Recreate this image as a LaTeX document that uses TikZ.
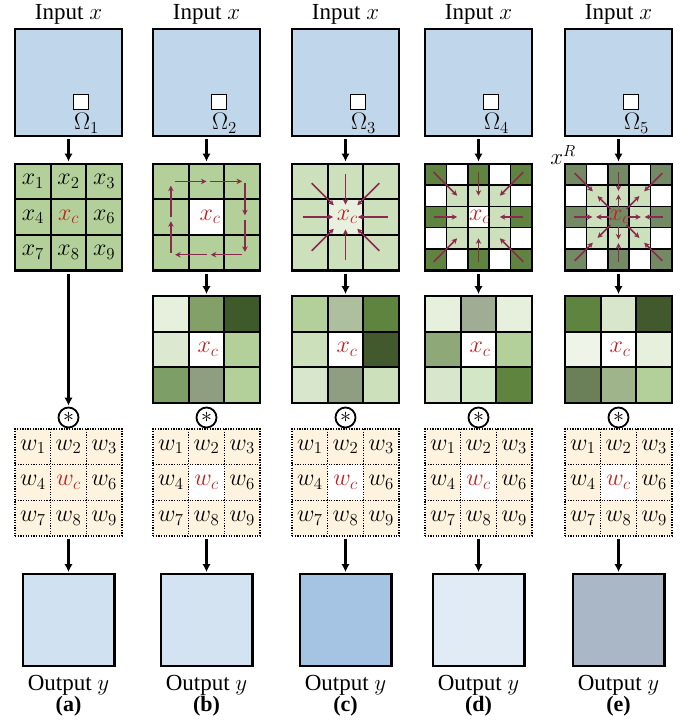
\RequirePackage{fix-cm}
\documentclass[tikz,border=0pt]{standalone}
\usepackage{fontspec}
\setmainfont{Liberation Serif}
\usetikzlibrary{arrows.meta}
\newcommand\defhex[1]{\definecolor{c#1}{HTML}{#1}}
\defhex{E6F0DC}\defhex{82A068}\defhex{3F5A2A}\defhex{DCE8D0}\defhex{B3D09A}
\defhex{7E9E68}\defhex{8F9E80}\defhex{AEBFA0}\defhex{5E8440}\defhex{CCE0BC}
\defhex{41592C}\defhex{D8E6CC}\defhex{A0AC94}\defhex{8FA878}\defhex{D3E6C5}
\defhex{EEF4E8}\defhex{6B7F58}\defhex{A0B48C}
\definecolor{inblue}{HTML}{C0D6EA}
\definecolor{gA}{HTML}{B3D09A}
\definecolor{gL}{HTML}{CCE0BC}
\definecolor{gC}{HTML}{E8F0DF}
\definecolor{gD}{HTML}{5E8440}
\definecolor{gE}{HTML}{748A64}
\definecolor{arrcol}{HTML}{8B2A4E}
\definecolor{redt}{HTML}{C0201E}
\definecolor{cream}{HTML}{FDF3DE}
\definecolor{outa}{HTML}{D0E1F1}
\definecolor{outb}{HTML}{D3E3F2}
\definecolor{outc}{HTML}{A5C3E2}
\definecolor{outd}{HTML}{E1EBF5}
\definecolor{oute}{HTML}{A9B7C6}
\tikzset{
  bigarrow/.style={line width=2.4pt, -{Latex[length=8pt,width=8.5pt]}, shorten <=2pt, shorten >=1pt},
  marr/.style={draw=arrcol, line width=1.5pt, -{Stealth[length=5.5pt,width=5.5pt]}},
  inbox/.style={draw, line width=2.4pt, fill=inblue, minimum size=106.6pt, inner sep=0pt},
  outbox/.style={draw, line width=2.4pt, minimum size=91.6pt, inner sep=0pt},
  gbox/.style={draw, line width=2.2pt, minimum size=106.8pt, inner sep=0pt},
  wbox/.style={draw, line width=1.4pt, dash pattern=on 1.3pt off 1.3pt, minimum size=106.8pt, inner sep=0pt},
  wline/.style={line width=1.4pt, dash pattern=on 1.3pt off 1.3pt},
  gline/.style={line width=1.7pt},
  gline5/.style={line width=1.4pt},
  conv/.style={circle, draw, line width=1.8pt, minimum size=20pt, inner sep=0pt, fill=white},
  celltxt/.style={font=\fontsize{24}{24}\selectfont, inner sep=0pt},
  lbl/.style={font=\fontsize{23}{23}\selectfont, inner sep=0pt},
  g3/.style 2 args={shift={(#1pt,-#2pt)}, x=35.6pt, y=-35.6pt},
  g5/.style 2 args={shift={(#1pt,-#2pt)}, x=21.36pt, y=-21.36pt},
}
\newcommand\gridthree[3]{%
  \begin{scope}[g3={#1}{#2}]
    \foreach \cc [count=\k from 0] in {#3} {
      \pgfmathtruncatemacro\ii{mod(\k,3)}
      \pgfmathtruncatemacro\jj{div(\k,3)}
      \fill[\cc] (\ii,\jj) rectangle ++(1,1);
    }
    \foreach \t in {1,2} {\draw[gline] (\t,0)--(\t,3); \draw[gline] (0,\t)--(3,\t);}
  \end{scope}}
\newcommand\gridfive[4]{%
  \begin{scope}[g5={#1}{#2}]
    \fill[white] (0,0) rectangle (5,5);
    \fill[gL] (1,1) rectangle (4,4);
    \foreach \i/\j in {0/0,2/0,4/0,0/2,4/2,0/4,2/4,4/4} {\fill[#3] (\i,\j) rectangle ++(1,1);}
    \fill[#4] (2,2) rectangle (3,3);
    \foreach \t in {1,2,3,4} {\draw[gline5] (\t,0)--(\t,5); \draw[gline5] (0,\t)--(5,\t);}
  \end{scope}}
\begin{document}
\begin{tikzpicture}[x=1pt,y=-1pt]
\useasboundingbox (0,0) rectangle (692,726);
% common parts of every column
\foreach \cx/\n/\lab in {68.5/1/a,206.5/2/b,345.5/3/c,478.5/4/d,618.5/5/e}{
  \pgfmathsetmacro\xo{\cx-53.4}
  \node[lbl] (it\n) at (\cx,14) {Input $x$};
  \node[inbox] (in\n) at (\cx,82.5) {};
  \node[draw, fill=white, line width=1.3pt, minimum size=15pt, inner sep=0pt] (sq\n) at (\cx+12.5,102) {};
  \node[lbl, font=\fontsize{24}{24}\selectfont] (om\n) at (\cx+18,123) {$\Omega_{\n}$};
  \begin{scope}[g3={\xo}{429.1}]
    \fill[cream] (0,0) rectangle (3,3);
    \ifnum\n>1 \fill[white] (1,1) rectangle (2,2); \fi
    \foreach \t in {1,2} {\draw[wline] (\t,0)--(\t,3); \draw[wline] (0,\t)--(3,\t);}
    \foreach \s/\i/\j in {1/0/0,2/1/0,3/2/0,4/0/1,6/2/1,7/0/2,8/1/2,9/2/2}
      {\node[celltxt] (w\n-\s) at (\i+.5,\j+.5) {$w_{\s}$};}
    \node[celltxt, text=redt] (w\n-c) at (1.5,1.5) {$w_c$};
  \end{scope}
  \node[wbox] (w\n) at (\cx,482.5) {};
  \node[conv] (cv\n) at (\cx,417.5) {\fontsize{22}{22}\selectfont$\ast$};
  \node[outbox, fill=out\lab] (out\n) at (\cx,620) {};
  \node[lbl] (ot\n) at (\cx,685) {Output $y$};
  \node[lbl, font=\fontsize{22}{22}\selectfont\bfseries] (cap\n) at (\cx,706) {(\lab)};
  \draw[bigarrow] (w\n) -- (out\n);
}
% ---------- column (a)
\gridthree{15.1}{163.6}{cB3D09A,cB3D09A,cB3D09A,cB3D09A,cB3D09A,cB3D09A,cB3D09A,cB3D09A,cB3D09A}
\begin{scope}[g3={15.1}{163.6}]
  \foreach \s/\i/\j in {1/0/0,2/1/0,3/2/0,4/0/1,6/2/1,7/0/2,8/1/2,9/2/2}
    {\node[celltxt] (xa-\s) at (\i+.5,\j+.5) {$x_{\s}$};}
  \node[celltxt, text=redt] (xa-c) at (1.5,1.5) {$x_c$};
\end{scope}
\node[gbox] (gi1) at (68.5,217) {};
% ---------- column (b)
\gridthree{153.1}{163.6}{cB3D09A,cB3D09A,cB3D09A,cB3D09A,white,cB3D09A,cB3D09A,cB3D09A,cB3D09A}
\begin{scope}[g3={153.1}{163.6}]
  \node[celltxt, text=redt] (xb-c) at (1.6,1.5) {$x_c$};
  \draw[marr] (0.62,0.5)--(1.5,0.5);
  \draw[marr] (1.6,0.5)--(2.5,0.5);
  \draw[marr] (2.58,0.55)--(2.58,1.45);
  \draw[marr] (2.58,1.58)--(2.58,2.48);
  \draw[marr] (2.5,2.56)--(1.62,2.56);
  \draw[marr] (1.5,2.56)--(0.62,2.56);
  \draw[marr] (0.5,2.5)--(0.5,1.62);
  \draw[marr] (0.5,1.5)--(0.5,0.62);
\end{scope}
\node[gbox] (gi2) at (206.5,217) {};
\gridthree{153.1}{296.1}{cE6F0DC,c82A068,c3F5A2A,cDCE8D0,white,cB3D09A,c7E9E68,c8F9E80,cB3D09A}
\node[celltxt, text=redt] (yb-c) at (208,349.5) {$x_c$};
\node[gbox] (go2) at (206.5,349.5) {};
% ---------- column (c)
\gridthree{292.1}{163.6}{cCCE0BC,cCCE0BC,cCCE0BC,cCCE0BC,gC,cCCE0BC,cCCE0BC,cCCE0BC,cCCE0BC}
\begin{scope}[g3={292.1}{163.6}]
  \node[celltxt, text=redt] (xc-c) at (1.55,1.5) {$x_c$};
  \draw[marr] (1.5,0.3)--(1.5,1.15);
  \draw[marr] (1.5,2.7)--(1.5,1.85);
  \draw[marr] (0.3,1.5)--(1.15,1.5);
  \draw[marr] (2.7,1.5)--(1.85,1.5);
  \draw[marr] (0.55,0.55)--(1.17,1.17);
  \draw[marr] (2.45,0.55)--(1.83,1.17);
  \draw[marr] (0.55,2.45)--(1.17,1.83);
  \draw[marr] (2.45,2.45)--(1.83,1.83);
\end{scope}
\node[gbox] (gi3) at (345.5,217) {};
\gridthree{292.1}{296.1}{cB3D09A,cAEBFA0,c5E8440,cCCE0BC,white,c41592C,cD8E6CC,c8F9E80,cCCE0BC}
\node[celltxt, text=redt] (yc-c) at (347,349.5) {$x_c$};
\node[gbox] (go3) at (345.5,349.5) {};
% ---------- column (d)
\gridfive{425.1}{163.6}{gD}{white}
\begin{scope}[g5={425.1}{163.6}]
  \node[celltxt, text=redt] (xd-c) at (2.55,2.5) {$x_c$};
  \draw[marr] (0.4,0.4)--(1.5,1.5);
  \draw[marr] (2.5,0.4)--(2.5,1.5);
  \draw[marr] (4.6,0.4)--(3.5,1.5);
  \draw[marr] (0.4,2.5)--(1.5,2.5);
  \draw[marr] (4.6,2.5)--(3.5,2.5);
  \draw[marr] (0.4,4.6)--(1.5,3.5);
  \draw[marr] (2.5,4.6)--(2.5,3.5);
  \draw[marr] (4.6,4.6)--(3.5,3.5);
\end{scope}
\node[gbox] (gi4) at (478.5,217) {};
\gridthree{425.1}{296.1}{cE6F0DC,cA0AC94,cE6F0DC,c8FA878,white,cB3D09A,cD8E6CC,cD3E6C5,c5E8440}
\node[celltxt, text=redt] (yd-c) at (480,349.5) {$x_c$};
\node[gbox] (go4) at (478.5,349.5) {};
% ---------- column (e)
\gridfive{565.1}{163.6}{gE}{gE}
\begin{scope}[g5={565.1}{163.6}]
  \node[celltxt, text=redt] (xe-c) at (2.55,2.5) {$x_c$};
  \draw[marr] (0.45,0.45)--(1.3,1.3);
  \draw[marr] (2.5,0.4)--(2.5,1.28);
  \draw[marr] (4.55,0.45)--(3.7,1.3);
  \draw[marr] (0.4,2.5)--(1.28,2.5);
  \draw[marr] (4.6,2.5)--(3.72,2.5);
  \draw[marr] (0.45,4.55)--(1.3,3.7);
  \draw[marr] (2.5,4.6)--(2.5,3.72);
  \draw[marr] (4.55,4.55)--(3.7,3.7);
  \draw[marr] (2.12,2.12)--(1.52,1.52);
  \draw[marr] (2.5,2.05)--(2.5,1.45);
  \draw[marr] (2.88,2.12)--(3.48,1.52);
  \draw[marr] (2.05,2.5)--(1.45,2.5);
  \draw[marr] (2.95,2.5)--(3.55,2.5);
  \draw[marr] (2.12,2.88)--(1.52,3.48);
  \draw[marr] (2.5,2.95)--(2.5,3.55);
  \draw[marr] (2.88,2.88)--(3.48,3.48);
\end{scope}
\node[gbox] (gi5) at (618.5,217) {};
\node[lbl] (xr) at (563,155) {$x^R$};
\gridthree{565.1}{296.1}{c5E8440,cD8E6CC,c41592C,cEEF4E8,white,cE6F0DC,c6B7F58,cA0B48C,cB3D09A}
\node[celltxt, text=redt] (ye-c) at (620,349.5) {$x_c$};
\node[gbox] (go5) at (618.5,349.5) {};
% ---------- connectors
\draw[bigarrow] (in1) -- (gi1);
\draw[bigarrow] (gi1) -- (cv1);
\foreach \n in {2,3,4,5}{
  \draw[bigarrow] (in\n) -- (gi\n);
  \draw[bigarrow] (gi\n) -- (go\n);
}
\end{tikzpicture}
\end{document}
